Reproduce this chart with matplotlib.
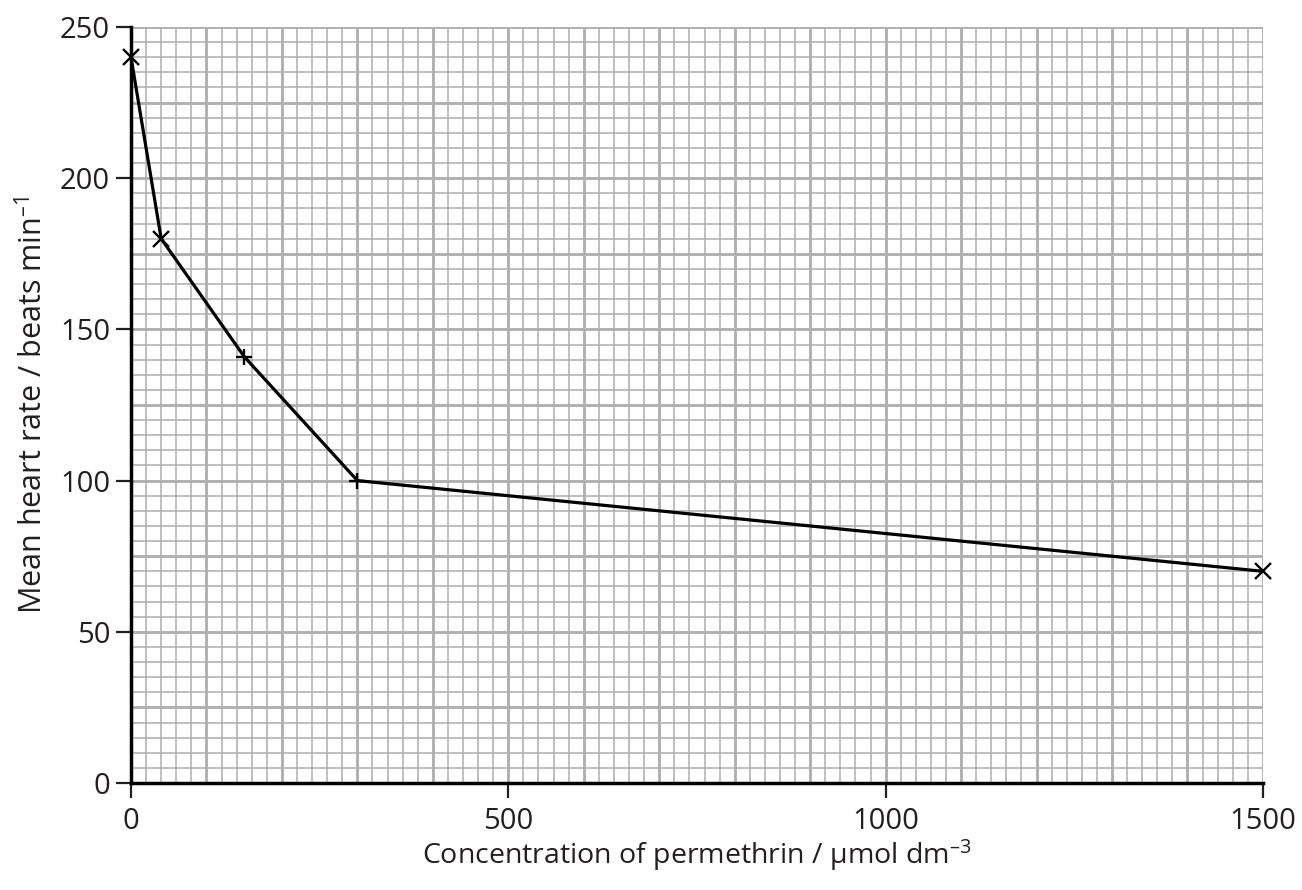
import numpy as np
import matplotlib
matplotlib.use('Agg')
import matplotlib.pyplot as plt

plt.rcParams['font.family'] = ['Open Sans', 'DejaVu Sans']
plt.rcParams['mathtext.fontset'] = 'custom'
plt.rcParams['mathtext.rm'] = 'Open Sans'
plt.rcParams['mathtext.it'] = 'Open Sans'

# data
concentration = [0, 40, 150, 300, 1500]
heart_rate = [240, 180, 141, 100, 70]
markers = ['x', 'x', '+', '+', 'x']

x_ticks = [0, 500, 1000, 1500]
y_ticks = [0, 50, 100, 150, 200, 250]

text_col = '#231f20'
grid_col = '#b0b0b0'

fig = plt.figure(figsize=(13.02, 8.9), dpi=100)
ax = fig.add_axes([0.1006, 0.1202, 0.8694, 0.8495])
ax.set_xlim(0, 1500)
ax.set_ylim(0, 250)

# graph paper grid
for x in np.arange(0, 1501, 20):
    major = x % 100 == 0
    ax.axvline(x, color=grid_col, lw=2.1 if major else 1.15, zorder=1)
for y in np.arange(0, 251, 5):
    major = y % 25 == 0
    ax.axhline(y, color=grid_col, lw=2.1 if major else 1.15, zorder=1)

ax.plot(concentration, heart_rate, color='black', lw=2.3, zorder=3, clip_on=False)
for x, y, m in zip(concentration, heart_rate, markers):
    ax.plot(x, y, marker=m, color='black', ms=12, mew=1.7, zorder=4, clip_on=False)

for s in ['top', 'right']:
    ax.spines[s].set_visible(False)
for s in ['left', 'bottom']:
    ax.spines[s].set_linewidth(2.5)
    ax.spines[s].set_color('black')
    ax.spines[s].set_zorder(5)

ax.set_xticks(x_ticks)
ax.set_yticks(y_ticks)
ax.tick_params(direction='out', length=11, width=1.6, color=text_col,
               labelcolor=text_col, labelsize=21, pad=4)
ax.tick_params(axis='x', pad=6)

ax.set_xlabel('Concentration of permethrin / μmol dm$^{\u2013 3}$', fontsize=20.5,
              color=text_col, labelpad=1)
ax.set_ylabel('Mean heart rate / beats min$^{\u2013 1}$', fontsize=22,
              color=text_col, labelpad=8)

fig.savefig('out.png', dpi=100)
